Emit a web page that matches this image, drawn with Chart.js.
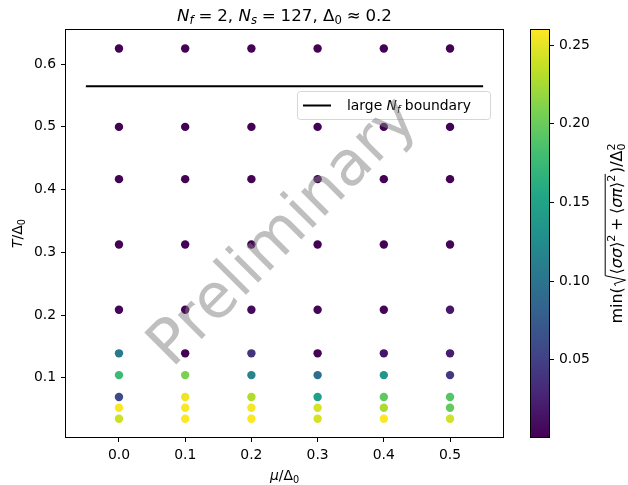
<!DOCTYPE html>
<html>
<head>
<meta charset="utf-8">
<script src="https://cdn.jsdelivr.net/npm/chart.js@4.4.1/dist/chart.umd.min.js"></script>
<style>
  html, body { margin: 0; padding: 0; background: #fff; }
  #wrap { position: relative; width: 628px; height: 485px; }
  #main { position: absolute; left: 0; top: 0; }
  #cbar { position: absolute; left: 500px; top: 0; }
</style>
</head>
<body>
<div id="wrap">
  <canvas id="main" width="628" height="485"></canvas>
  <canvas id="cbar" width="128" height="485"></canvas>
</div>
<script>
// grid of chemical potentials and temperatures (in units of Delta_0)
var muValues = [0.0, 0.1, 0.2, 0.3, 0.4, 0.5];
var tValues = [0.625, 0.5, 0.4167, 0.3125, 0.2083, 0.1389, 0.1042, 0.0694, 0.0521, 0.0347];

// min sqrt(<ss>^2 + <sp>^2)/Delta_0^2, one list per mu column, same order as tValues
var gapMu00 = [0.002, 0.002, 0.002, 0.002, 0.003, 0.106, 0.177, 0.058, 0.258, 0.239];
var gapMu01 = [0.002, 0.002, 0.002, 0.002, 0.003, 0.002, 0.208, 0.254, 0.258, 0.259];
var gapMu02 = [0.002, 0.002, 0.002, 0.002, 0.008, 0.040, 0.117, 0.229, 0.257, 0.259];
var gapMu03 = [0.002, 0.002, 0.002, 0.002, 0.003, 0.003, 0.094, 0.146, 0.244, 0.243];
var gapMu04 = [0.002, 0.002, 0.002, 0.002, 0.004, 0.016, 0.136, 0.195, 0.226, 0.259];
var gapMu05 = [0.002, 0.002, 0.002, 0.003, 0.018, 0.022, 0.045, 0.190, 0.198, 0.242];
var gapColumns = [gapMu00, gapMu01, gapMu02, gapMu03, gapMu04, gapMu05];

// large N_f phase boundary
var boundaryMu = [-0.05, 0.55];
var boundaryT = [0.565, 0.565];

var xTicks = [0.0, 0.1, 0.2, 0.3, 0.4, 0.5];
var yTicks = [0.1, 0.2, 0.3, 0.4, 0.5, 0.6];
var cbarTicks = [0.05, 0.10, 0.15, 0.20, 0.25];
var cMin = 0.001, cMax = 0.2596;

// viridis
var viridis = ['#440154', '#482475', '#414487', '#355f8d', '#2a788e', '#21918c',
               '#22a884', '#44bf70', '#7ad151', '#bddf26', '#fde725'];

function hexRgb(h) {
  return [parseInt(h.substr(1, 2), 16), parseInt(h.substr(3, 2), 16), parseInt(h.substr(5, 2), 16)];
}
function colorFor(v) {
  var t = (v - cMin) / (cMax - cMin);
  t = Math.max(0, Math.min(1, t));
  var f = t * (viridis.length - 1);
  var i = Math.min(Math.floor(f), viridis.length - 2);
  var a = hexRgb(viridis[i]), b = hexRgb(viridis[i + 1]), k = f - i;
  var c = a.map(function(x, j) { return Math.round(x + (b[j] - x) * k); });
  return 'rgb(' + c.join(',') + ')';
}

var points = [], pointColors = [];
muValues.forEach(function(mu, i) {
  tValues.forEach(function(t, j) {
    points.push({x: mu, y: t});
    pointColors.push(colorFor(gapColumns[i][j]));
  });
});

// --- little mathtext-ish renderer ---
var FAM = '"DejaVu Sans"';
function font(size, it) { return (it ? 'italic ' : '') + size + 'px ' + FAM; }

function segWidth(ctx, s, size) {
  if (s.rad) return 0.8 * size + richWidth(ctx, s.rad, size) + 0.1 * size;
  if (s.ss) {
    ctx.font = font(size * 0.7, false);
    return Math.max(ctx.measureText(s.ss[0]).width, ctx.measureText(s.ss[1]).width);
  }
  if (s.gap) return s.gap * size;
  var sz = (s.sub || s.sup) ? size * 0.7 : size;
  ctx.font = font(sz, s.it);
  return ctx.measureText(s.t).width;
}
function richWidth(ctx, segs, size) {
  var w = 0;
  segs.forEach(function(s) { w += segWidth(ctx, s, size); });
  return w;
}
function drawRich(ctx, segs, x, y, size) {
  segs.forEach(function(s) {
    var w = segWidth(ctx, s, size);
    if (s.rad) {
      var inner = richWidth(ctx, s.rad, size);
      ctx.save();
      ctx.lineWidth = 1;
      ctx.strokeStyle = ctx.fillStyle;
      ctx.beginPath();
      ctx.moveTo(x + 0.08 * size, y - 0.40 * size);
      ctx.lineTo(x + 0.22 * size, y - 0.48 * size);
      ctx.lineTo(x + 0.44 * size, y + 0.22 * size);
      ctx.lineTo(x + 0.72 * size, y - 1.05 * size);
      ctx.lineTo(x + 0.8 * size + inner + 0.05 * size, y - 1.05 * size);
      ctx.stroke();
      ctx.restore();
      drawRich(ctx, s.rad, x + 0.8 * size, y, size);
    } else if (s.ss) {
      ctx.font = font(size * 0.7, false);
      ctx.fillText(s.ss[0], x, y + 0.2 * size);
      ctx.fillText(s.ss[1], x, y - 0.42 * size);
    } else if (s.t) {
      var sz = (s.sub || s.sup) ? size * 0.7 : size;
      var dy = s.sub ? 0.2 * size : (s.sup ? -0.42 * size : 0);
      ctx.font = font(sz, s.it);
      ctx.fillText(s.t, x, y + dy);
    }
    x += w;
  });
  return x;
}

var titleSegs = [
  {t: 'N', it: true}, {t: 'f', it: true, sub: true}, {gap: 0.29}, {t: '='}, {gap: 0.29}, {t: '2, '},
  {t: 'N', it: true}, {t: 's', it: true, sub: true}, {gap: 0.29}, {t: '='}, {gap: 0.29}, {t: '127, '},
  {t: 'Δ'}, {t: '0', sub: true}, {gap: 0.29}, {t: '≈'}, {gap: 0.29}, {t: '0.2'}
];
var xLabelSegs = [{t: 'μ', it: true}, {t: '/Δ'}, {t: '0', sub: true}];
var yLabelSegs = [{t: 'T', it: true}, {t: '/Δ'}, {t: '0', sub: true}];
var legendSegs = [{t: 'large '}, {t: 'N', it: true}, {t: 'f', it: true, sub: true}, {t: ' boundary'}];
var cbarLabelSegs = [
  {t: 'min('},
  {rad: [{t: '⟨'}, {t: 'σσ', it: true}, {t: '⟩'}, {t: '2', sup: true}, {gap: 0.22}, {t: '+'}, {gap: 0.22},
         {t: '⟨'}, {t: 'σπ', it: true}, {t: '⟩'}, {t: '2', sup: true}]},
  {t: ')/Δ'}, {ss: ['0', '2']}
];

var TICK = 13.9;

var decorations = {
  id: 'decorations',
  afterDraw: function(chart) {
    var ctx = chart.ctx, a = chart.chartArea;
    ctx.save();
    ctx.fillStyle = '#000';
    ctx.textBaseline = 'alphabetic';
    ctx.textAlign = 'left';

    // frame
    ctx.strokeStyle = '#000';
    ctx.lineWidth = 1;
    ctx.strokeRect(Math.round(a.left) - 0.5, Math.round(a.top) - 0.5,
                   Math.round(a.right - a.left) + 1, Math.round(a.bottom - a.top) + 1);

    var cx = (a.left + a.right) / 2, cy = (a.top + a.bottom) / 2;

    // title
    var ts = 16.67;
    drawRich(ctx, titleSegs, cx - richWidth(ctx, titleSegs, ts) / 2, a.top - 9, ts);

    // axis labels
    drawRich(ctx, xLabelSegs, cx - richWidth(ctx, xLabelSegs, TICK) / 2, a.bottom + 43, TICK);
    ctx.save();
    ctx.translate(a.left - 44, cy);
    ctx.rotate(-Math.PI / 2);
    drawRich(ctx, yLabelSegs, -richWidth(ctx, yLabelSegs, TICK) / 2, 0, TICK);
    ctx.restore();

    // legend
    var lw = 193, lh = 28, lx = a.right - 206, ly = a.top + 61;
    ctx.beginPath();
    ctx.roundRect(lx + 0.5, ly + 0.5, lw, lh, 3);
    ctx.fillStyle = 'rgba(255,255,255,0.8)';
    ctx.fill();
    ctx.strokeStyle = '#d6d6d6';
    ctx.stroke();
    ctx.beginPath();
    ctx.moveTo(lx + 6, ly + lh / 2 + 0.5);
    ctx.lineTo(lx + 34, ly + lh / 2 + 0.5);
    ctx.strokeStyle = '#000';
    ctx.lineWidth = 2;
    ctx.stroke();
    ctx.fillStyle = '#000';
    drawRich(ctx, legendSegs, lx + 50, ly + lh / 2 + 5, TICK);

    // watermark
    ctx.translate(cx, cy);
    ctx.rotate(-Math.PI / 4);
    ctx.font = '62px ' + FAM;
    ctx.textAlign = 'center';
    ctx.textBaseline = 'middle';
    ctx.fillStyle = 'rgba(128,128,128,0.5)';
    ctx.fillText('Preliminary', 0, 0);
    ctx.restore();
  }
};

function tickScale(list, digits) {
  return {
    type: 'linear',
    border: {display: false},
    grid: {drawOnChartArea: false, tickLength: 5, tickColor: '#000', tickWidth: 1},
    ticks: {color: '#000', padding: 5, font: {family: 'DejaVu Sans', size: TICK},
            callback: function(v) { return v.toFixed(digits); }},
    afterBuildTicks: function(s) { s.ticks = list.map(function(v) { return {value: v}; }); }
  };
}

var xScale = tickScale(xTicks, 1);
xScale.min = -0.08; xScale.max = 0.58;
xScale.afterFit = function(s) { s.height = 30; };
var yScale = tickScale(yTicks, 1);
yScale.min = 0.0055; yScale.max = 0.6545;
yScale.afterFit = function(s) { s.width = 45; };

new Chart(document.getElementById('main'), {
  type: 'scatter',
  data: {
    datasets: [{
      type: 'line',
      data: boundaryMu.map(function(m, i) { return {x: m, y: boundaryT[i]}; }),
      borderColor: '#000',
      borderWidth: 2,
      pointRadius: 0,
      fill: false
    }, {
      data: points,
      backgroundColor: pointColors,
      borderWidth: 0,
      pointRadius: 4.2,
      pointHoverRadius: 4.2
    }]
  },
  options: {
    responsive: false,
    animation: false,
    events: [],
    layout: {padding: {left: 21, right: 125, top: 30, bottom: 18}},
    plugins: {legend: {display: false}, tooltip: {enabled: false}},
    scales: {x: xScale, y: yScale}
  },
  plugins: [decorations]
});

// colorbar
var cbarDecor = {
  id: 'cbarDecor',
  afterDraw: function(chart) {
    var ctx = chart.ctx, a = chart.chartArea;
    var ls = 16;
    ctx.save();
    ctx.strokeStyle = '#000';
    ctx.lineWidth = 1;
    ctx.strokeRect(Math.round(a.left) - 0.5, Math.round(a.top) - 0.5,
                   Math.round(a.right - a.left) + 1, Math.round(a.bottom - a.top) + 1);
    ctx.fillStyle = '#000';
    ctx.textAlign = 'left';
    ctx.translate(116, (a.top + a.bottom) / 2);
    ctx.rotate(-Math.PI / 2);
    drawRich(ctx, cbarLabelSegs, -richWidth(ctx, cbarLabelSegs, ls) / 2, 6, ls);
    ctx.restore();
  }
};

var cScale = tickScale(cbarTicks, 2);
cScale.position = 'right';
cScale.min = cMin; cScale.max = cMax;
cScale.afterFit = function(s) { s.width = 45; };

new Chart(document.getElementById('cbar'), {
  type: 'bar',
  data: {
    labels: ['gap'],
    datasets: [{
      data: [[cMin, cMax]],
      barPercentage: 1,
      categoryPercentage: 1,
      borderWidth: 0,
      borderSkipped: false,
      backgroundColor: function(c) {
        var area = c.chart.chartArea;
        if (!area) return viridis[0];
        var yS = c.chart.scales.y;
        var g = c.chart.ctx.createLinearGradient(0, yS.getPixelForValue(cMin), 0, yS.getPixelForValue(cMax));
        viridis.forEach(function(col, i) { g.addColorStop(i / (viridis.length - 1), col); });
        return g;
      }
    }]
  },
  options: {
    responsive: false,
    animation: false,
    events: [],
    layout: {padding: {left: 31, right: 34, top: 30, bottom: 48}},
    plugins: {legend: {display: false}, tooltip: {enabled: false}},
    scales: {
      x: {display: false},
      y: cScale
    }
  },
  plugins: [cbarDecor]
});
</script>
</body>
</html>
